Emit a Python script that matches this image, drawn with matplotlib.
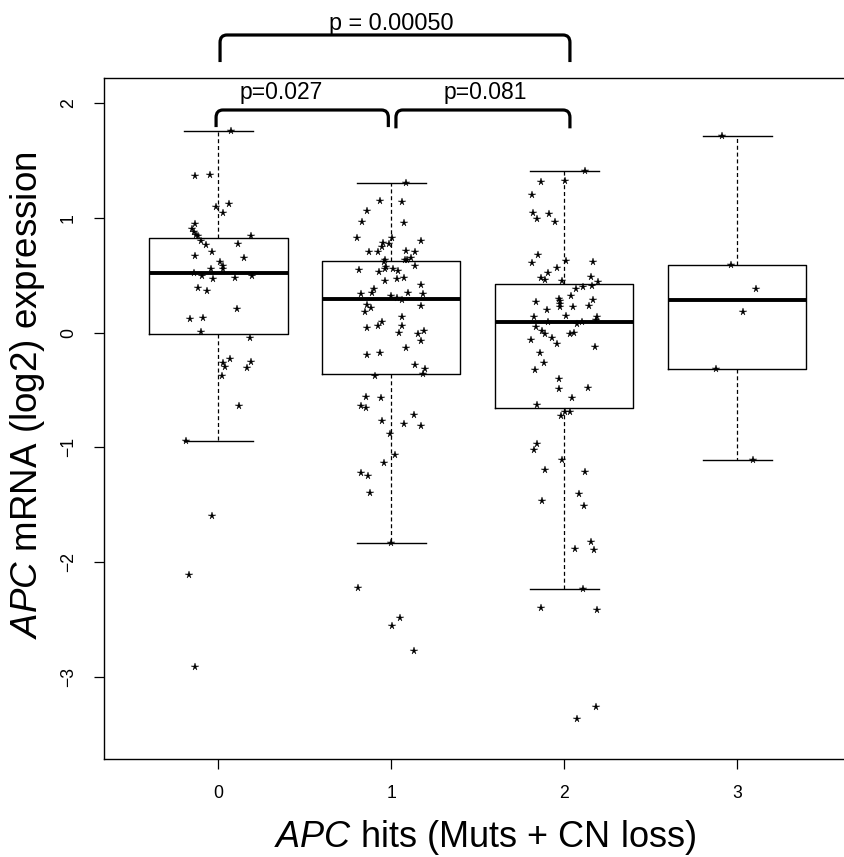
import numpy as np
import matplotlib
matplotlib.use('Agg')
import matplotlib.pyplot as plt
from matplotlib.path import Path
from matplotlib.patches import PathPatch

plt.rcParams['font.family'] = ['Liberation Sans', 'DejaVu Sans']
plt.rcParams['mathtext.fontset'] = 'custom'
plt.rcParams['mathtext.it'] = 'Liberation Sans:italic'
plt.rcParams['mathtext.rm'] = 'Liberation Sans'
plt.rcParams['lines.scale_dashes'] = False

# ---------------- data ----------------
categories = ['0', '1', '2', '3']

box_whislo = [-0.944, -1.836, -2.237, -1.110]
box_q1 = [-0.014, -0.363, -0.659, -0.319]
box_med = [0.518, 0.294, 0.093, 0.285]
box_q3 = [0.823, 0.625, 0.427, 0.590]
box_whishi = [1.758, 1.308, 1.410, 1.712]

g0_y = [1.758, 1.364, 1.372, 1.099, 1.125, 1.046, 0.948, 0.904, 0.881, 0.852,
        0.846, 0.846, 0.802, 0.771, 0.762, 0.706, 0.666, 0.654, 0.616, 0.579,
        0.558, 0.553, 0.494, 0.468, 0.474, 0.494, 0.518, 0.390, 0.364, 0.204,
        0.122, 0.128, 0.009, -0.044, -0.229, -0.267, -0.296, -0.258, -0.310,
        -0.378, -0.636, -0.947, -1.595, -2.112, -2.917]
g0_jitter = [0.072, -0.135, -0.048, -0.015, 0.062, 0.027, -0.135, -0.150, -0.139, -0.131,
             -0.119, 0.189, -0.100, 0.112, -0.071, -0.035, -0.136, 0.149, 0.010, 0.029,
             -0.042, 0.027, -0.092, -0.031, 0.097, 0.195, -0.139, -0.119, -0.065, 0.110,
             -0.164, -0.090, -0.098, 0.183, 0.068, 0.029, 0.037, 0.189, 0.168,
             0.020, 0.118, -0.187, -0.035, -0.169, -0.135]

g1_y = [1.308, 1.148, 1.140, 1.064, 0.963, 0.954, 0.823, 0.828, 0.802, 0.785,
        0.773, 0.745, 0.704, 0.704, 0.710, 0.701, 0.634, 0.619, 0.634, 0.634,
        0.649, 0.584, 0.573, 0.555, 0.547, 0.529, 0.553, 0.538, 0.471, 0.474,
        0.448, 0.413, 0.384, 0.349, 0.337, 0.349, 0.337, 0.323, 0.305, 0.285,
        0.239, 0.218, 0.183, 0.235, 0.137, 0.096, 0.061, 0.044, 0.061, -0.005,
        0.017, -0.014, -0.070, -0.131, -0.194, -0.174, -0.284, -0.319, -0.357, -0.378,
        -0.561, -0.572, -0.636, -0.659, -0.715, -0.770, -0.796, -0.813, -0.883, -1.066,
        -1.139, -1.221, -1.249, -1.400, -1.836, -2.226, -2.487, -2.557, -2.778]
g1_jitter = [0.083, -0.067, 0.064, -0.142, -0.169, 0.073, -0.198, 0.002, 0.173, -0.050,
             -0.013, -0.055, -0.131, -0.079, 0.083, 0.139, -0.036, -0.042, 0.079, 0.092,
             0.116, 0.135, -0.029, -0.035, -0.188, -0.071, 0.010, 0.037, 0.035, 0.072,
             -0.038, 0.172, -0.098, -0.110, -0.177, 0.095, 0.182, -0.002, 0.033, 0.064,
             -0.142, -0.119, -0.150, 0.172, 0.062, -0.055, -0.079, -0.142, 0.062, 0.043,
             0.189, 0.156, 0.170, 0.087, -0.140, -0.067, 0.139, 0.195, 0.181, -0.096,
             -0.147, -0.058, -0.177, -0.147, 0.131, -0.055, 0.072, 0.170, -0.006, 0.023,
             -0.040, -0.177, -0.133, -0.125, -0.002, -0.192, 0.052, 0.004, 0.131]

g2_y = [1.410, 1.311, 1.323, 1.203, 1.041, 0.989, 1.035, 0.965, 0.675, 0.605,
        0.625, 0.619, 0.561, 0.520, 0.477, 0.462, 0.453, 0.483, 0.439, 0.410,
        0.398, 0.378, 0.320, 0.296, 0.276, 0.253, 0.270, 0.288, 0.227, 0.227,
        0.230, 0.195, 0.146, 0.134, 0.134, 0.113, 0.091, 0.076, 0.091, 0.052,
        0.012, -0.011, -0.009, -0.005, -0.064, -0.049, -0.101, -0.122, -0.180, -0.267,
        -0.325, -0.406, -0.493, -0.485, -0.572, -0.630, -0.689, -0.694, -0.726, -0.973,
        -1.025, -1.112, -1.197, -1.212, -1.404, -1.470, -1.508, -1.827, -1.886, -1.895,
        -2.237, -2.400, -2.415, -3.263, -3.368]
g2_jitter = [0.121, -0.136, 0.006, -0.188, -0.179, -0.158, -0.090, -0.052, -0.152, -0.185,
             0.010, 0.164, -0.040, -0.096, -0.133, -0.112, -0.012, 0.154, 0.195, 0.158,
             0.106, 0.068, 0.037, -0.029, -0.025, -0.023, -0.164, 0.168, -0.027, 0.048,
             0.146, -0.101, 0.012, -0.173, 0.189, 0.181, -0.092, 0.071, 0.104, -0.164,
             -0.127, -0.112, 0.031, 0.056, -0.194, -0.071, -0.040, 0.179, -0.142, -0.119,
             -0.168, -0.029, -0.031, 0.137, 0.045, -0.158, 0.002, 0.035, -0.019, -0.156,
             -0.177, -0.015, -0.113, 0.120, 0.087, -0.131, 0.112, 0.154, 0.060, 0.172,
             0.110, -0.136, 0.187, 0.183, 0.073]

g3_y = [1.712, 0.590, 0.384, 0.180, -0.319, -1.110]
g3_jitter = [-0.087, -0.035, 0.108, 0.035, -0.123, 0.089]

group_y = [g0_y, g1_y, g2_y, g3_y]
group_jitter = [g0_jitter, g1_jitter, g2_jitter, g3_jitter]

p_labels = ['p=0.027', 'p=0.081', 'p = 0.00050']

# ---------------- figure ----------------
fig = plt.figure(figsize=(8.44, 8.57), dpi=100)
W, H = 844, 857
ax = fig.add_axes([104 / W, 1 - 759 / H, (851.5 - 104) / W, (759 - 78) / H])

stats = []
for i in range(len(categories)):
    stats.append(dict(med=box_med[i], q1=box_q1[i], q3=box_q3[i],
                      whislo=box_whislo[i], whishi=box_whishi[i], fliers=[]))

ax.bxp(stats, positions=range(len(categories)), widths=0.8, capwidths=0.4,
       showfliers=False, manage_ticks=False,
       boxprops=dict(color='black', lw=1.0),
       medianprops=dict(color='black', lw=2.8, solid_capstyle='butt'),
       whiskerprops=dict(color='black', lw=0.9, linestyle=(0, (2.9, 2.0))),
       capprops=dict(color='black', lw=1.0))

for i, (ys, js) in enumerate(zip(group_y, group_jitter)):
    ax.plot(np.array(js) + i, ys, ls='none', marker='*', ms=5.5,
            color='black', mew=0.3, zorder=4)

ax.set_xlim(-0.661, 3.661)
ax.set_ylim(-3.717, 2.221)
ax.set_xticks(range(len(categories)))
ax.set_xticklabels(categories)
ax.set_yticks([-3, -2, -1, 0, 1, 2])
ax.tick_params(axis='both', length=7.5, width=0.9, labelsize=12.7, direction='out')
ax.tick_params(axis='x', pad=11)
ax.tick_params(axis='y', pad=12, labelrotation=90)
for lab in ax.get_yticklabels():
    lab.set_va('center')
for s in ax.spines.values():
    s.set_linewidth(1.0)


def bracket(x1, x2, ytop, ybot, rx=0.04, ry=0.065):
    verts = [(x1, ybot), (x1, ytop - ry), (x1, ytop), (x1 + rx, ytop),
             (x2 - rx, ytop), (x2, ytop), (x2, ytop - ry), (x2, ybot)]
    codes = [Path.MOVETO, Path.LINETO, Path.CURVE3, Path.CURVE3,
             Path.LINETO, Path.CURVE3, Path.CURVE3, Path.LINETO]
    ax.add_patch(PathPatch(Path(verts, codes), fill=False, lw=2.3,
                           color='black', clip_on=False, capstyle='butt',
                           joinstyle='round'))

bracket(-0.013, 0.983, 1.942, 1.793)
bracket(1.027, 2.033, 1.942, 1.782)
bracket(0.010, 2.033, 2.596, 2.360)
ax.text(0.361, 2.035, p_labels[0], ha='center', va='baseline', fontsize=16.5, clip_on=False)
ax.text(1.545, 2.035, p_labels[1], ha='center', va='baseline', fontsize=16.5, clip_on=False)
ax.text(1.0, 2.640, p_labels[2], ha='center', va='baseline', fontsize=16.8, clip_on=False)

fig.text(485 / W, 1 - 847 / H, r'$\mathit{APC}$ hits (Muts + CN loss)',
         ha='center', va='baseline', fontsize=26)
fig.text(28 / W, 1 - 395 / H, r'$\mathit{APC}$ mRNA (log2) expression',
         ha='center', va='center', rotation=90, fontsize=26.5)

fig.savefig('out.png', dpi=100)
